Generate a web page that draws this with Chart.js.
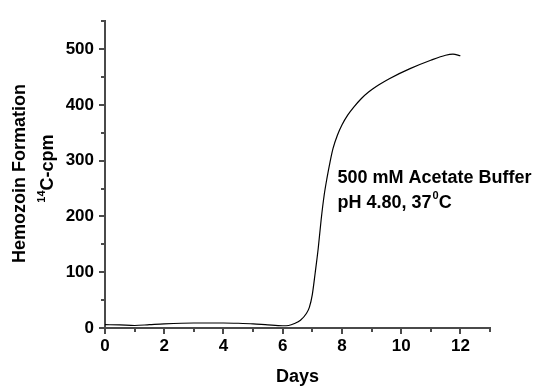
<!DOCTYPE html>
<html>
<head>
<meta charset="utf-8">
<script src="https://cdn.jsdelivr.net/npm/chart.js@4.4.0/dist/chart.umd.min.js"></script>
<style>
  html, body { margin: 0; padding: 0; background: #fff; }
  #wrap { width: 538px; height: 389px; }
</style>
</head>
<body>
<div id="wrap"><canvas id="hemozoinChart" width="538" height="389"></canvas></div>
<script>
// incubation time (days) and 14C counts of the hemozoin formed
const days = [0, 0.5, 1, 1.5, 2, 3, 4, 4.5, 5, 5.5, 6, 6.2, 6.4, 6.6, 6.8, 6.9, 7.0, 7.1, 7.2, 7.3, 7.4, 7.5, 7.6, 7.7, 7.85, 8.0, 8.2, 8.4, 8.65, 8.9, 9.25, 9.6, 10.3, 11.0, 11.5, 11.75, 12.0];
const cpm  = [6, 5.5, 4.5, 6, 7.5, 9, 9, 8.5, 7.5, 5.5, 4, 4.5, 8, 14, 26, 37, 60, 100, 143, 195, 238, 270, 298, 322, 346, 364, 382, 396, 411, 423, 436, 447, 465, 480, 489, 491, 488];

const dayTicks = [0, 2, 4, 6, 8, 10, 12];
const cpmTicks = [0, 100, 200, 300, 400, 500];

// buffer conditions written next to the curve
const noteLine1 = '500 mM Acetate Buffer';
const noteLine2 = ['pH 4.80, 37', '0', 'C'];
const noteDay = 7.85;
const noteCpm = [260, 216];

const FONT = '"Liberation Sans", Arial, Helvetica, sans-serif';
const axisColor = '#4a4a4a';

const points = days.map((d, i) => ({ x: d, y: cpm[i] }));

// draws tick marks, axis titles and the buffer note
const extras = {
  id: 'extras',
  afterDraw(chart) {
    const ctx = chart.ctx;
    const xs = chart.scales.x;
    const ys = chart.scales.y;
    const area = chart.chartArea;
    ctx.save();
    ctx.strokeStyle = axisColor;
    ctx.lineWidth = 2;

    for (let d = xs.min; d <= xs.max; d++) {
      const px = Math.round(xs.getPixelForValue(d));
      const len = d % 2 === 0 ? 6 : 4;
      ctx.beginPath();
      ctx.moveTo(px, area.bottom);
      ctx.lineTo(px, area.bottom + len);
      ctx.stroke();
    }
    for (let v = ys.min; v <= ys.max; v += 50) {
      const py = Math.round(ys.getPixelForValue(v));
      const len = v % 100 === 0 ? 6 : 4;
      ctx.beginPath();
      ctx.moveTo(area.left, py);
      ctx.lineTo(area.left - len, py);
      ctx.stroke();
    }

    ctx.fillStyle = '#000';
    ctx.textBaseline = 'middle';

    // x title
    ctx.font = 'bold 18px ' + FONT;
    ctx.textAlign = 'center';
    ctx.fillText('Days', (area.left + area.right) / 2, 377);

    // y title, two lines, rotated
    const cy = (area.top + area.bottom) / 2;
    ctx.save();
    ctx.translate(20, cy - 1);
    ctx.rotate(-Math.PI / 2);
    ctx.fillText('Hemozoin Formation', 0, 0);
    ctx.restore();

    ctx.save();
    ctx.translate(48, cy - 6);
    ctx.rotate(-Math.PI / 2);
    ctx.textAlign = 'left';
    ctx.font = 'bold 11px ' + FONT;
    const wSup = ctx.measureText('14').width;
    ctx.font = 'bold 18px ' + FONT;
    const wMain = ctx.measureText('C-cpm').width;
    const start = -(wSup + wMain) / 2;
    ctx.font = 'bold 11px ' + FONT;
    ctx.fillText('14', start, -6);
    ctx.font = 'bold 18px ' + FONT;
    ctx.fillText('C-cpm', start + wSup, 0);
    ctx.restore();

    // buffer note
    const nx = xs.getPixelForValue(noteDay);
    ctx.textAlign = 'left';
    ctx.textBaseline = 'alphabetic';
    ctx.font = 'bold 18px ' + FONT;
    ctx.fillText(noteLine1, nx, ys.getPixelForValue(noteCpm[0]));
    const y2 = ys.getPixelForValue(noteCpm[1]);
    let x2 = nx;
    ctx.fillText(noteLine2[0], x2, y2);
    x2 += ctx.measureText(noteLine2[0]).width + 1;
    ctx.font = 'bold 11px ' + FONT;
    ctx.fillText(noteLine2[1], x2, y2 - 9);
    x2 += ctx.measureText(noteLine2[1]).width;
    ctx.font = 'bold 18px ' + FONT;
    ctx.fillText(noteLine2[2], x2, y2);

    ctx.restore();
  }
};

const ctx = document.querySelector('#hemozoinChart').getContext('2d');
const hemozoinChart = new Chart(ctx, {
  type: 'line',
  data: {
    datasets: [{
      data: points,
      borderColor: '#000',
      borderWidth: 1.2,
      pointRadius: 0,
      fill: false,
      cubicInterpolationMode: 'monotone'
    }]
  },
  options: {
    responsive: false,
    animation: false,
    layout: { padding: { top: 16, right: 48, left: 0, bottom: 0 } },
    plugins: {
      legend: { display: false },
      tooltip: { enabled: false }
    },
    scales: {
      x: {
        type: 'linear',
        min: 0,
        max: 13,
        afterBuildTicks: s => { s.ticks = dayTicks.map(v => ({ value: v })); },
        afterFit: s => { s.height = 61; },
        grid: { display: false, drawTicks: false },
        border: { display: true, color: axisColor, width: 2 },
        ticks: {
          padding: 8,
          maxRotation: 0,
          color: '#000',
          font: { family: FONT, size: 17, weight: 'bold' }
        }
      },
      y: {
        min: 0,
        max: 550,
        afterBuildTicks: s => { s.ticks = cpmTicks.map(v => ({ value: v })); },
        afterFit: s => { s.width = 105; },
        grid: { display: false, drawTicks: false },
        border: { display: true, color: axisColor, width: 2 },
        ticks: {
          padding: 11,
          color: '#000',
          font: { family: FONT, size: 17, weight: 'bold' }
        }
      }
    }
  },
  plugins: [extras]
});
</script>
</body>
</html>
